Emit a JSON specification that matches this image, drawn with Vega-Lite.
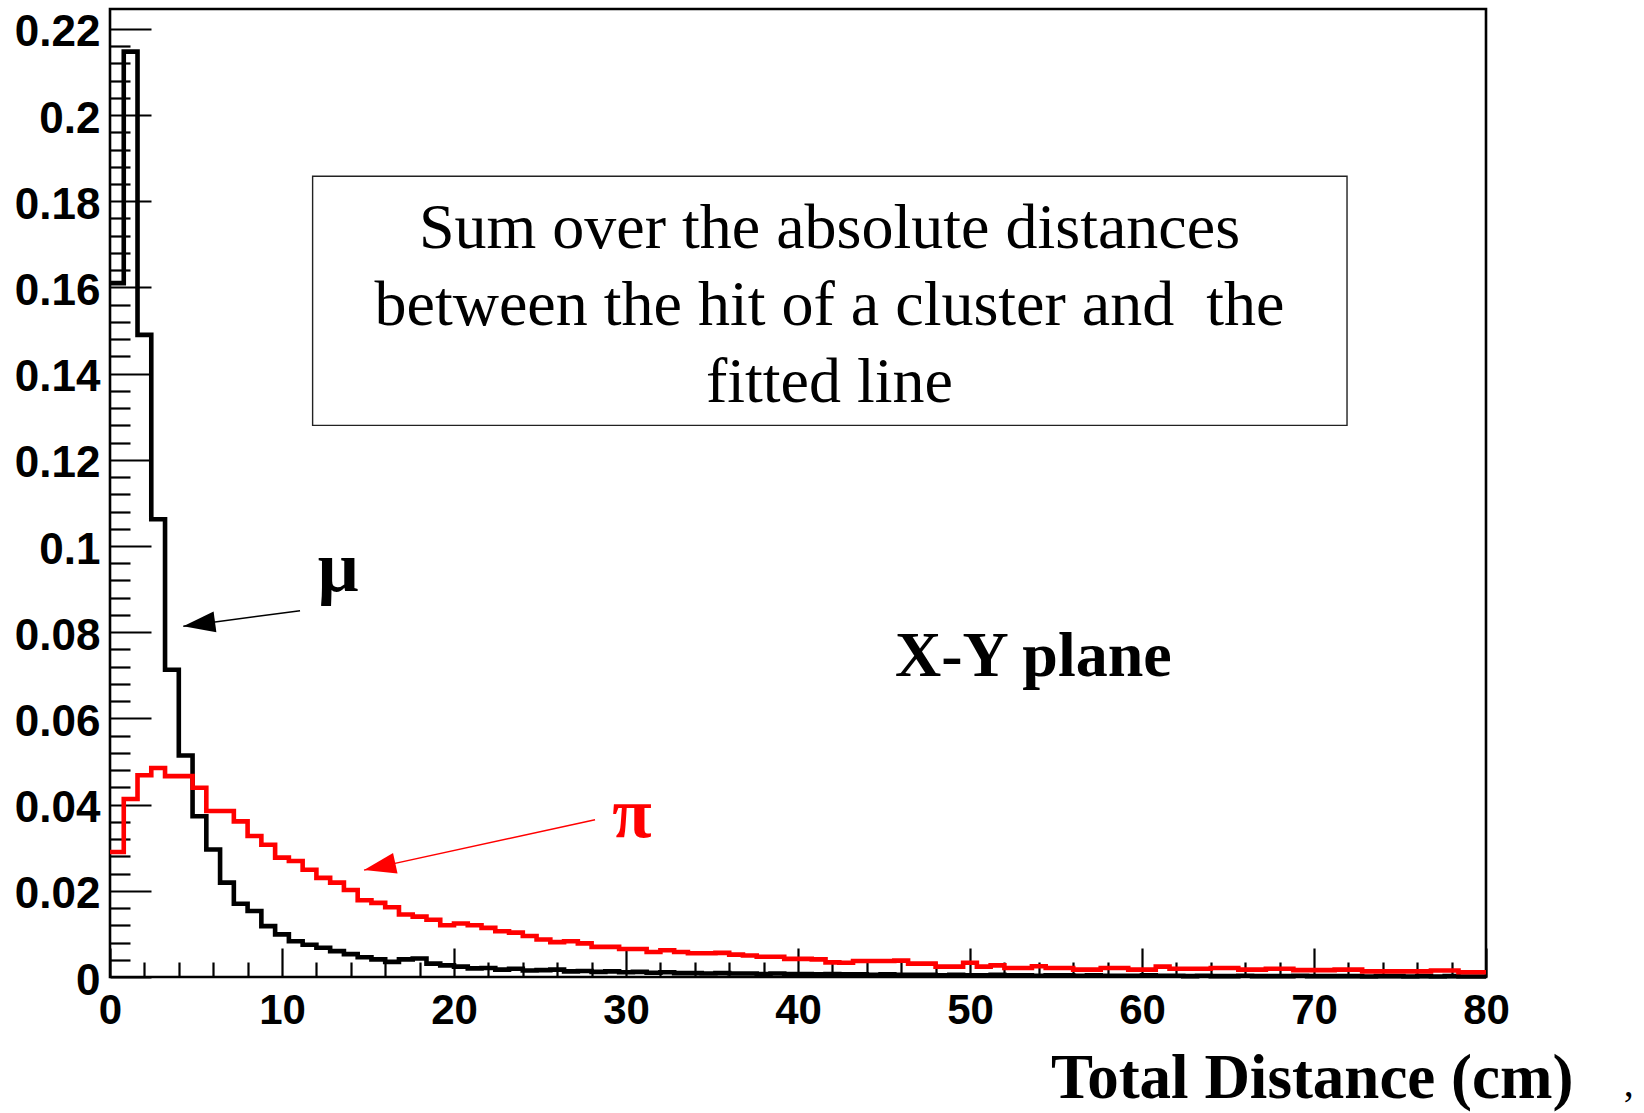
{
 "$schema": "https://vega.github.io/schema/vega-lite/v6.json",
 "width": 1376, "height": 968,
 "autosize": {"type": "none"},
 "padding": {"left": 110, "top": 9, "right": 158, "bottom": 136},
 "background": "white",
 "config": {"view": {"stroke": "black", "strokeWidth": 2.6}},
 "datasets": {
  "hist": [
   {"x":0,"mu":0.161,"pi":0.029},{"x":0.8,"mu":0.2147,"pi":0.0413},{"x":1.6,"mu":0.149,"pi":0.0468},{"x":2.4,"mu":0.1062,"pi":0.0485},{"x":3.2,"mu":0.0713,"pi":0.0466},
   {"x":4,"mu":0.0514,"pi":0.0466},{"x":4.8,"mu":0.0373,"pi":0.0439},{"x":5.6,"mu":0.0296,"pi":0.0385},{"x":6.4,"mu":0.0219,"pi":0.0385},{"x":7.2,"mu":0.017,"pi":0.0361},
   {"x":8,"mu":0.0153,"pi":0.0327},{"x":8.8,"mu":0.0118,"pi":0.0307},{"x":9.6,"mu":0.0099,"pi":0.0277},{"x":10.4,"mu":0.0083,"pi":0.0269},{"x":11.2,"mu":0.0075,"pi":0.0249},
   {"x":12,"mu":0.0068,"pi":0.023},{"x":12.8,"mu":0.006,"pi":0.0219},{"x":13.6,"mu":0.0053,"pi":0.0202},{"x":14.4,"mu":0.0046,"pi":0.0178},{"x":15.2,"mu":0.0041,"pi":0.0172},
   {"x":16,"mu":0.0035,"pi":0.0162},{"x":16.8,"mu":0.0041,"pi":0.0145},{"x":17.6,"mu":0.0043,"pi":0.014},{"x":18.4,"mu":0.0031,"pi":0.0133},{"x":19.2,"mu":0.0027,"pi":0.012},
   {"x":20,"mu":0.0024,"pi":0.0124},{"x":20.8,"mu":0.002,"pi":0.012},{"x":21.6,"mu":0.0021,"pi":0.0114},{"x":22.4,"mu":0.0017,"pi":0.0106},{"x":23.2,"mu":0.0019,"pi":0.0103},
   {"x":24,"mu":0.0015,"pi":0.0095},{"x":24.8,"mu":0.0016,"pi":0.0087},{"x":25.6,"mu":0.0017,"pi":0.0081},{"x":26.4,"mu":0.0013,"pi":0.0083},{"x":27.2,"mu":0.0014,"pi":0.0078},
   {"x":28,"mu":0.0012,"pi":0.007},{"x":28.8,"mu":0.0013,"pi":0.007},{"x":29.6,"mu":0.0011,"pi":0.0065},{"x":30.4,"mu":0.0012,"pi":0.0065},{"x":31.2,"mu":0.001,"pi":0.0058},
   {"x":32,"mu":0.0011,"pi":0.0062},{"x":32.8,"mu":0.0009,"pi":0.0058},{"x":33.6,"mu":0.0009,"pi":0.0055},{"x":34.4,"mu":0.0008,"pi":0.0055},{"x":35.2,"mu":0.0009,"pi":0.0056},
   {"x":36,"mu":0.0008,"pi":0.0052},{"x":36.8,"mu":0.0008,"pi":0.005},{"x":37.6,"mu":0.0007,"pi":0.0047},{"x":38.4,"mu":0.0008,"pi":0.0047},{"x":39.2,"mu":0.0007,"pi":0.0042},
   {"x":40,"mu":0.0007,"pi":0.0042},{"x":40.8,"mu":0.0006,"pi":0.0041},{"x":41.6,"mu":0.0007,"pi":0.0034},{"x":42.4,"mu":0.0006,"pi":0.0033},{"x":43.2,"mu":0.0006,"pi":0.0037},
   {"x":44,"mu":0.0005,"pi":0.0037},{"x":44.8,"mu":0.0006,"pi":0.0037},{"x":45.6,"mu":0.0005,"pi":0.0038},{"x":46.4,"mu":0.0005,"pi":0.0031},{"x":47.2,"mu":0.0005,"pi":0.0031},
   {"x":48,"mu":0.0004,"pi":0.0024},{"x":48.8,"mu":0.0005,"pi":0.0024},{"x":49.6,"mu":0.0004,"pi":0.0033},{"x":50.4,"mu":0.0004,"pi":0.0024},{"x":51.2,"mu":0.0005,"pi":0.0027},
   {"x":52,"mu":0.0004,"pi":0.0021},{"x":52.8,"mu":0.0004,"pi":0.0021},{"x":53.6,"mu":0.0003,"pi":0.0025},{"x":54.4,"mu":0.0004,"pi":0.0021},{"x":55.2,"mu":0.0004,"pi":0.0021},
   {"x":56,"mu":0.0003,"pi":0.0017},{"x":56.8,"mu":0.0004,"pi":0.0017},{"x":57.6,"mu":0.0003,"pi":0.0021},{"x":58.4,"mu":0.0003,"pi":0.0021},{"x":59.2,"mu":0.0003,"pi":0.0017},
   {"x":60,"mu":0.0004,"pi":0.0017},{"x":60.8,"mu":0.0003,"pi":0.0024},{"x":61.6,"mu":0.0003,"pi":0.0019},{"x":62.4,"mu":0.0002,"pi":0.0019},{"x":63.2,"mu":0.0003,"pi":0.0019},
   {"x":64,"mu":0.0002,"pi":0.0021},{"x":64.8,"mu":0.0002,"pi":0.0021},{"x":65.6,"mu":0.0003,"pi":0.0017},{"x":66.4,"mu":0.0002,"pi":0.0017},{"x":67.2,"mu":0.0002,"pi":0.0019},
   {"x":68,"mu":0.0002,"pi":0.0019},{"x":68.8,"mu":0.0003,"pi":0.0016},{"x":69.6,"mu":0.0002,"pi":0.0016},{"x":70.4,"mu":0.0002,"pi":0.0016},{"x":71.2,"mu":0.0002,"pi":0.0017},
   {"x":72,"mu":0.0002,"pi":0.0017},{"x":72.8,"mu":0.0001,"pi":0.0013},{"x":73.6,"mu":0.0002,"pi":0.0013},{"x":74.4,"mu":0.0002,"pi":0.0013},{"x":75.2,"mu":0.0001,"pi":0.0013},
   {"x":76,"mu":0.0002,"pi":0.0013},{"x":76.8,"mu":0.0001,"pi":0.0015},{"x":77.6,"mu":0.0002,"pi":0.0015},{"x":78.4,"mu":0.0001,"pi":0.0011},{"x":79.2,"mu":0.0001,"pi":0.0011},
   {"x":80,"mu":0.0001,"pi":0.0011}
  ],
  "box": [{"x": 11.78, "x2": 71.92, "y": 0.1858, "y2": 0.128}],
  "boxtxt": [
   {"x": 41.83, "y": 0.1735, "txt": "Sum over the absolute distances"},
   {"x": 41.83, "y": 0.1556, "txt": "between the hit of a cluster and \u00a0the"},
   {"x": 41.83, "y": 0.1379, "txt": "fitted line"}
  ],
  "arrows": [
   {"series": "mu", "x": 11.05, "y": 0.085, "x2": 4.26, "y2": 0.0814},
   {"series": "pi", "x": 28.2, "y": 0.0365, "x2": 14.77, "y2": 0.0248}
  ],
  "heads": [
   {"series": "mu", "x": 4.26, "y": 0.0814},
   {"series": "pi", "x": 14.77, "y": 0.0248}
  ],
  "labels": [
   {"k": "plane", "x": 53.68, "y": 0.0699, "txt": "X-Y plane"},
   {"k": "mu", "x": 13.26, "y": 0.0895, "txt": "μ"},
   {"k": "pi", "x": 30.35, "y": 0.0324, "txt": "π"},
   {"k": "comma", "x": 88.3, "y": -0.0275, "txt": ","}
  ]
 },
 "encoding": {
  "x": {"field": "x", "type": "quantitative", "scale": {"domain": [0, 80], "nice": false, "zero": false},
   "axis": {
    "values": [0,2,4,6,8,10,12,14,16,18,20,22,24,26,28,30,32,34,36,38,40,42,44,46,48,50,52,54,56,58,60,62,64,66,68,70,72,74,76,78,80],
    "title": "Total Distance (cm)", "domain": false, "grid": false, "ticks": true,
    "tickSize": {"condition": {"test": "datum.value % 10 === 0", "value": -29}, "value": -15},
    "tickColor": "black", "tickWidth": 2.2,
    "labelExpr": "datum.value % 10 === 0 ? datum.label : ''",
    "labelFont": "Liberation Sans", "labelFontWeight": "bold", "labelFontSize": 42, "labelColor": "black", "labelPadding": 42,
    "labelFlush": false, "labelOverlap": false,
    "titleFont": "Liberation Serif", "titleFontSize": 63, "titleFontWeight": "bold", "titleColor": "black",
    "titleAlign": "right", "titleX": 1463, "titleY": 120, "titleBaseline": "alphabetic"
   }},
  "y": {"field": "y", "type": "quantitative", "scale": {"domain": [0, 0.2246], "nice": false, "zero": false},
   "axis": {
    "values": [0,0.004,0.008,0.012,0.016,0.02,0.024,0.028,0.032,0.036,0.04,0.044,0.048,0.052,0.056,0.06,0.064,0.068,0.072,0.076,0.08,0.084,0.088,0.092,0.096,0.1,0.104,0.108,0.112,0.116,0.12,0.124,0.128,0.132,0.136,0.14,0.144,0.148,0.152,0.156,0.16,0.164,0.168,0.172,0.176,0.18,0.184,0.188,0.192,0.196,0.2,0.204,0.208,0.212,0.216,0.22],
    "title": null, "domain": false, "grid": false, "ticks": true,
    "tickSize": {"condition": {"test": "abs(round(datum.value*1000)) % 20 === 0", "value": -41}, "value": -20},
    "tickColor": "black", "tickWidth": 2.2,
    "labelExpr": "abs(round(datum.value*1000)) % 20 === 0 ? format(datum.value, '~g') : ''",
    "labelFont": "Liberation Sans", "labelFontWeight": "bold", "labelFontSize": 44, "labelColor": "black", "labelPadding": 51,
    "labelOffset": 4, "labelFlush": false, "labelOverlap": false
   }}
 },
 "layer": [
  {
   "data": {"name": "hist"},
   "transform": [{"fold": ["mu", "pi"], "as": ["series", "y"]}],
   "mark": {"type": "line", "interpolate": "step-after", "strokeWidth": 4.6, "strokeJoin": "miter", "strokeCap": "butt"},
   "encoding": {
    "color": {"field": "series", "type": "nominal", "scale": {"domain": ["mu", "pi"], "range": ["#000000", "#ff0000"]}, "legend": null}
   }
  },
  {
   "data": {"name": "box"},
   "mark": {"type": "rect", "fill": "white", "stroke": "#222222", "strokeWidth": 1.4},
   "encoding": {
    "x2": {"field": "x2"},
    "y2": {"field": "y2"}
   }
  },
  {
   "data": {"name": "boxtxt"},
   "mark": {"type": "text", "font": "Liberation Serif", "fontSize": 64, "align": "center", "baseline": "middle", "color": "black"},
   "encoding": {
    "text": {"field": "txt"}
   }
  },
  {
   "data": {"name": "arrows"},
   "mark": {"type": "rule", "strokeWidth": 1.5},
   "encoding": {
    "x2": {"field": "x2"},
    "y2": {"field": "y2"},
    "color": {"field": "series", "type": "nominal", "scale": {"domain": ["mu", "pi"], "range": ["#000000", "#ff0000"]}, "legend": null}
   }
  },
  {
   "data": {"name": "heads"},
   "transform": [{"filter": "datum.series === 'mu'"}],
   "mark": {"type": "point", "shape": "M0,0L2,-0.65L2,0.65Z", "size": 1024, "filled": true, "opacity": 1, "fill": "#000000", "strokeWidth": 0, "angle": 352.3}
  },
  {
   "data": {"name": "heads"},
   "transform": [{"filter": "datum.series === 'pi'"}],
   "mark": {"type": "point", "shape": "M0,0L2,-0.65L2,0.65Z", "size": 1024, "filled": true, "opacity": 1, "fill": "#ff0000", "strokeWidth": 0, "angle": 347.6}
  },
  {
   "data": {"name": "labels"},
   "transform": [{"filter": "datum.k === 'plane'"}],
   "mark": {"type": "text", "font": "Liberation Serif", "fontWeight": "bold", "fontSize": 64, "align": "center", "baseline": "alphabetic", "color": "black"},
   "encoding": {"text": {"field": "txt"}}
  },
  {
   "data": {"name": "labels"},
   "transform": [{"filter": "datum.k === 'mu'"}],
   "mark": {"type": "text", "font": "Liberation Serif", "fontWeight": "bold", "fontSize": 72, "align": "center", "baseline": "alphabetic", "color": "black"},
   "encoding": {"text": {"field": "txt"}}
  },
  {
   "data": {"name": "labels"},
   "transform": [{"filter": "datum.k === 'pi'"}],
   "mark": {"type": "text", "font": "Liberation Serif", "fontWeight": "bold", "fontSize": 72, "align": "center", "baseline": "alphabetic", "color": "#ff0000"},
   "encoding": {"text": {"field": "txt"}}
  },
  {
   "data": {"name": "labels"},
   "transform": [{"filter": "datum.k === 'comma'"}],
   "mark": {"type": "text", "font": "Liberation Serif", "fontSize": 40, "align": "center", "baseline": "alphabetic", "color": "black"},
   "encoding": {"text": {"field": "txt"}}
  }
 ]
}
